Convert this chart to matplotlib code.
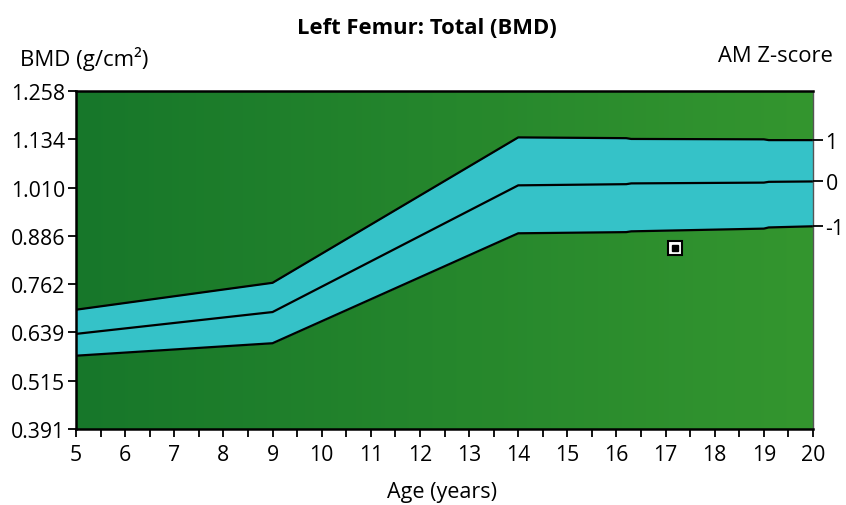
import numpy as np
import matplotlib
matplotlib.use("Agg")
import matplotlib.pyplot as plt
from matplotlib.colors import to_rgb

plt.rcParams["font.family"] = ["Open Sans", "DejaVu Sans"]

# reference curves (BMD g/cm2 by age)
ages = [5, 9, 14, 16.2, 16.3, 19.0, 19.1, 20]
z_plus1 = [0.697, 0.766, 1.139, 1.137, 1.135, 1.134, 1.132, 1.132]
z_zero = [0.635, 0.691, 1.016, 1.019, 1.021, 1.023, 1.025, 1.026]
z_minus1 = [0.579, 0.611, 0.893, 0.896, 0.898, 0.905, 0.908, 0.911]
z_labels = ["1", "0", "-1"]

# patient measurement
patient_age = [17.2]
patient_bmd = [0.854]

bmd_ticks = [0.391, 0.515, 0.639, 0.762, 0.886, 1.010, 1.134, 1.258]
age_ticks = list(range(5, 21))

fig = plt.figure(figsize=(8.46, 5.06), dpi=100)
ax = fig.add_axes([76 / 846, 1 - 430 / 506, (813 - 76) / 846, (430 - 92) / 506])

# green background, slightly lighter toward the right
c0 = np.array(to_rgb("#17772a"))
c1 = np.array(to_rgb("#34962f"))
t = np.linspace(0, 1, 200)
grad = (c0[None, :] * (1 - t[:, None]) + c1[None, :] * t[:, None])[None, :, :]
ax.imshow(grad, extent=[5, 20, bmd_ticks[0], bmd_ticks[-1]], aspect="auto",
          zorder=0, interpolation="bilinear")

ax.fill_between(ages, z_minus1, z_plus1, color="#35c2c8", zorder=1, lw=0)
for curve in (z_plus1, z_zero, z_minus1):
    ax.plot(ages, curve, color="black", lw=1.6, zorder=2)

ax.plot(patient_age, patient_bmd, marker="s", ms=10, mfc="white", mec="black",
        mew=1.5, ls="none", zorder=3)
ax.plot(patient_age, patient_bmd, marker="s", ms=4, mfc="black", mec="black",
        ls="none", zorder=4)

ax.set_xlim(5, 20)
ax.set_ylim(bmd_ticks[0], bmd_ticks[-1])
ax.set_yticks(bmd_ticks)
ax.set_yticklabels([f"{v:.3f}" for v in bmd_ticks])
ax.set_xticks(age_ticks)
ax.set_xticks(np.arange(5.5, 20, 1.0), minor=True)
ax.tick_params(axis="both", which="both", direction="out", length=6, width=1.3,
               labelsize=15.3, color="black")
ax.tick_params(axis="y", pad=2)
ax.tick_params(axis="x", pad=5)
for s in ax.spines.values():
    s.set_linewidth(1.8)
ax.spines["right"].set_color("#555555")
ax.spines["right"].set_linewidth(1.0)

ax2 = ax.twinx()
ax2.set_ylim(ax.get_ylim())
ax2.set_yticks([z_plus1[-1], z_zero[-1], z_minus1[-1]])
ax2.set_yticklabels(z_labels)
ax2.tick_params(axis="y", direction="out", length=7, width=1.3, labelsize=15.3, pad=2)
for s in ax2.spines.values():
    s.set_visible(False)

fig.text(427 / 846, 1 - 28 / 506, "Left Femur: Total (BMD)", ha="center", va="center",
         fontsize=15.8, fontweight="bold")
fig.text(20 / 846, 1 - 59 / 506, "BMD (g/cm²)", ha="left", va="center", fontsize=16)
fig.text(833 / 846, 1 - 57 / 506, "AM Z-score", ha="right", va="center", fontsize=15.8)
fig.text(442 / 846, 1 - 493 / 506, "Age (years)", ha="center", va="center", fontsize=15.5)

fig.savefig("out.png", dpi=100)
